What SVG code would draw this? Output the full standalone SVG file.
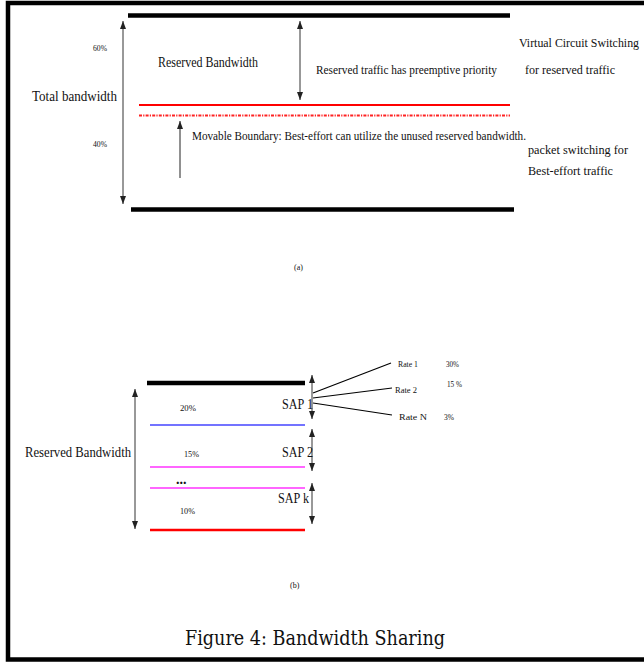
<svg xmlns="http://www.w3.org/2000/svg" width="644" height="662" viewBox="0 0 644 662">
<defs>
<marker id="ah" viewBox="0 0 8 6" refX="8" refY="3" markerWidth="8" markerHeight="6" markerUnits="userSpaceOnUse" orient="auto-start-reverse">
<path d="M0,0 L8,3 L0,6 Z" fill="#222"/>
</marker>
</defs>
<style>
text{font-family:"Liberation Serif","Times New Roman",serif;fill:#111}
.s9{font-size:9px}
.s13{font-size:13.5px}
.s14{font-size:14.5px}
.thick{stroke:#000;stroke-width:4.5}
.arr{stroke:#333;stroke-width:1;fill:none;marker-start:url(#ah);marker-end:url(#ah)}
.arr1{stroke:#222;stroke-width:1;fill:none;marker-end:url(#ah)}
</style>
<rect x="8" y="3" width="650" height="656.5" fill="#fff" stroke="#000" stroke-width="4.5"/>

<g id="connectors">
<line x1="123" y1="21" x2="123" y2="204" class="arr"/>
<line x1="300" y1="21" x2="300" y2="100" class="arr"/>
<line x1="180" y1="178" x2="180" y2="121" class="arr1"/>
<line x1="135" y1="389" x2="135" y2="529" class="arr"/>
<line x1="312" y1="375" x2="312" y2="419" class="arr"/>
<line x1="312" y1="429" x2="312" y2="471" class="arr"/>
<line x1="312" y1="483" x2="312" y2="524" class="arr"/>
<line x1="313" y1="393" x2="391" y2="363" stroke="#000" stroke-width="1.2"/>
<line x1="313" y1="398" x2="392" y2="388" stroke="#000" stroke-width="1.2"/>
<line x1="313" y1="403" x2="392" y2="415" stroke="#000" stroke-width="1.2"/>
</g>

<g id="top-diagram">
<line x1="128" y1="15.5" x2="510" y2="15.5" class="thick"/>
<line x1="131" y1="209.5" x2="514" y2="209.5" class="thick"/>
<line x1="139" y1="105" x2="510" y2="105" stroke="#f00" stroke-width="2"/>
<line x1="139" y1="115.5" x2="510" y2="115.5" stroke="#f22" stroke-width="2" stroke-dasharray="3 1.2 1.2 1.2"/>
</g>

<g id="top-labels">
<text x="93" y="51" class="s9" textLength="14" lengthAdjust="spacingAndGlyphs">60%</text>
<text x="93" y="147" class="s9" textLength="14" lengthAdjust="spacingAndGlyphs">40%</text>
<text x="32" y="101" style="font-size:15.5px" textLength="85" lengthAdjust="spacingAndGlyphs">Total bandwidth</text>
<text x="158" y="67" class="s14" textLength="100" lengthAdjust="spacingAndGlyphs">Reserved Bandwidth</text>
<text x="316" y="74" class="s13" textLength="181" lengthAdjust="spacingAndGlyphs">Reserved traffic has preemptive priority</text>
<text x="519" y="47" style="font-size:12px" textLength="120" lengthAdjust="spacingAndGlyphs">Virtual Circuit Switching</text>
<text x="525" y="74" class="s13" textLength="90" lengthAdjust="spacingAndGlyphs">for reserved traffic</text>
<text x="192" y="140" class="s13" textLength="334" lengthAdjust="spacingAndGlyphs">Movable Boundary: Best-effort can utilize the unused reserved bandwidth.</text>
<text x="528" y="154" class="s13" textLength="100" lengthAdjust="spacingAndGlyphs">packet switching for</text>
<text x="528" y="175" class="s13" textLength="85" lengthAdjust="spacingAndGlyphs">Best-effort traffic</text>
<text x="294" y="270" style="font-size:8px">(a)</text>
</g>

<g id="bottom-diagram">
<line x1="147" y1="383" x2="305" y2="383" class="thick"/>
<line x1="150" y1="425" x2="305" y2="425" stroke="#44f" stroke-width="1.5"/>
<line x1="150" y1="467" x2="305" y2="467" stroke="#f6f" stroke-width="2"/>
<line x1="150" y1="488" x2="305" y2="488" stroke="#f6f" stroke-width="2"/>
<line x1="150" y1="530" x2="305" y2="530" stroke="#f00" stroke-width="2.5"/>
</g>

<g id="bottom-labels">
<text x="25" y="457" class="s14" textLength="106" lengthAdjust="spacingAndGlyphs">Reserved Bandwidth</text>
<text x="180" y="411" class="s9" textLength="16" lengthAdjust="spacingAndGlyphs">20%</text>
<text x="184" y="457" class="s9" textLength="15" lengthAdjust="spacingAndGlyphs">15%</text>
<text x="176" y="484" style="font-size:14px;font-weight:bold">...</text>
<text x="180" y="514" class="s9" textLength="15" lengthAdjust="spacingAndGlyphs">10%</text>
<text x="282" y="409" class="s14" textLength="31" lengthAdjust="spacingAndGlyphs">SAP 1</text>
<text x="282" y="457" class="s14" textLength="31" lengthAdjust="spacingAndGlyphs">SAP 2</text>
<text x="278" y="503" class="s14" textLength="31" lengthAdjust="spacingAndGlyphs">SAP k</text>
<text x="398" y="367" class="s9" textLength="20" lengthAdjust="spacingAndGlyphs">Rate 1</text>
<text x="446" y="367" class="s9" textLength="13" lengthAdjust="spacingAndGlyphs">30%</text>
<text x="395" y="393" class="s9" textLength="22" lengthAdjust="spacingAndGlyphs">Rate 2</text>
<text x="447" y="387" class="s9" textLength="15" lengthAdjust="spacingAndGlyphs">15 %</text>
<text x="399" y="420" class="s9" textLength="28" lengthAdjust="spacingAndGlyphs">Rate N</text>
<text x="444" y="420" class="s9" textLength="10" lengthAdjust="spacingAndGlyphs">3%</text>
<text x="290" y="588" style="font-size:8px">(b)</text>
</g>

<g id="caption">
<text x="185" y="645" style="font-size:20px;font-family:'DejaVu Serif','Liberation Serif',serif" textLength="260" lengthAdjust="spacingAndGlyphs">Figure 4: Bandwidth Sharing</text>
</g>
</svg>
